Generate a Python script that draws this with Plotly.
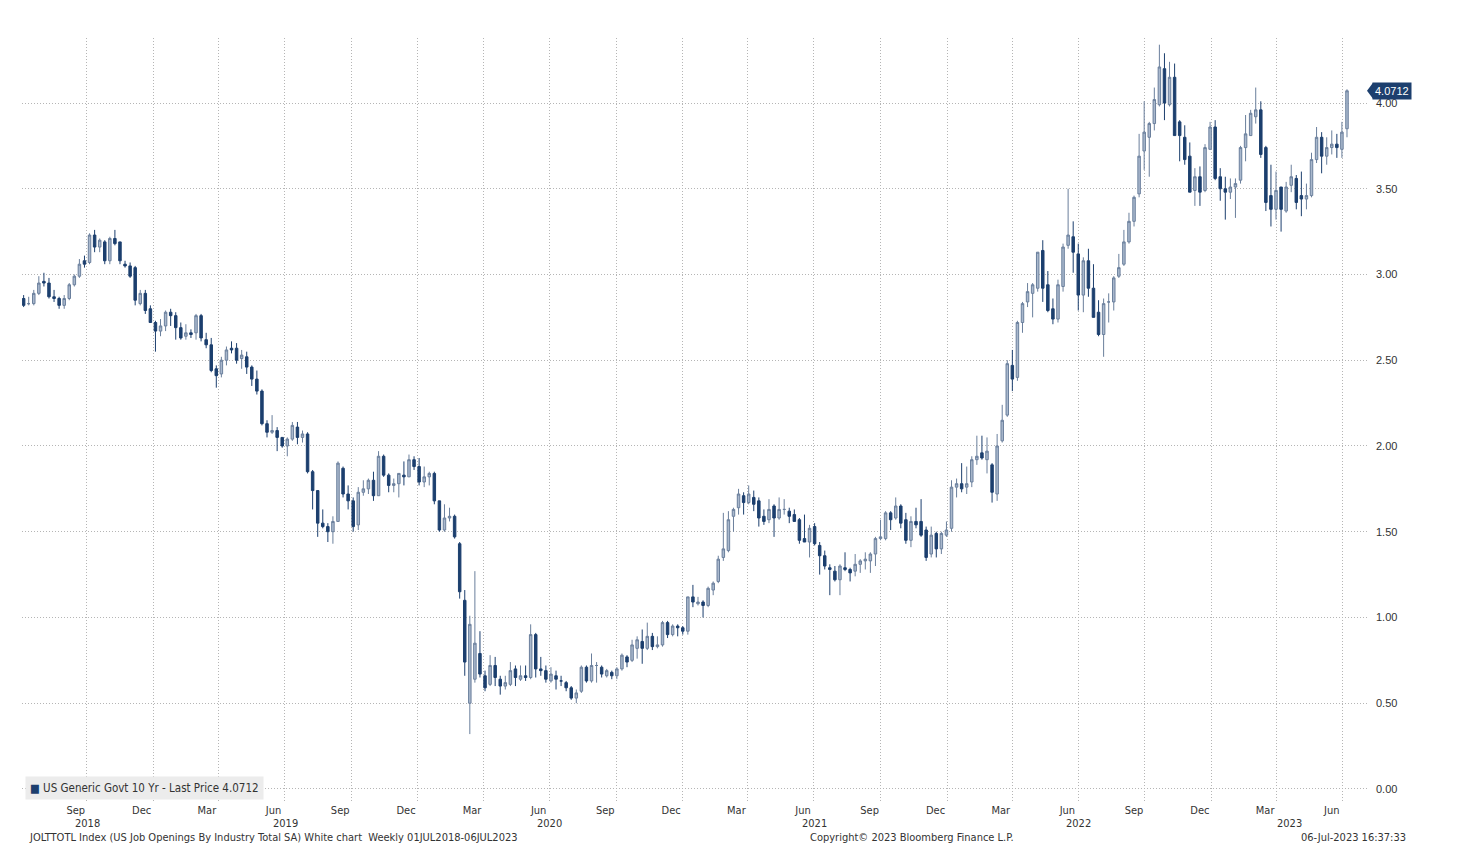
import pandas as pd
import plotly.graph_objects as go

# Weekly US Generic Govt 10Y (weeks ending Friday), 06-Jul-2018 .. 07-Jul-2023
first_week = "2018-07-06"

open_ = [
    # 2018
    2.86, 2.83, 2.83, 2.89, 2.96, 2.95, 2.87, 2.86, 2.82, 2.86, 2.94, 2.99, 3.08,
    3.07, 3.23, 3.16, 3.19, 3.08, 3.21, 3.19, 3.06, 3.05, 3.04, 2.83, 2.89, 2.80,
    # 2019
    2.72, 2.67, 2.70, 2.78, 2.76, 2.69, 2.64, 2.66, 2.66, 2.76, 2.62, 2.59, 2.45,
    2.42, 2.50, 2.57, 2.57, 2.51, 2.52, 2.46, 2.39, 2.32, 2.13, 2.08, 2.09, 2.05,
    2.00, 2.04, 2.11, 2.05, 2.07, 1.85, 1.74, 1.55, 1.53, 1.50, 1.56, 1.87, 1.72,
    1.68, 1.54, 1.73, 1.75, 1.80, 1.71, 1.94, 1.83, 1.77, 1.78, 1.83, 1.82, 1.92,
    # 2020
    1.88, 1.79, 1.82, 1.84, 1.68, 1.51, 1.58, 1.59, 1.43, 1.10, 0.50, 0.64, 0.79,
    0.66, 0.61, 0.72, 0.64, 0.60, 0.61, 0.70, 0.64, 0.66, 0.65, 0.90, 0.70, 0.69,
    0.63, 0.66, 0.63, 0.62, 0.59, 0.53, 0.57, 0.71, 0.63, 0.72, 0.71, 0.66, 0.68,
    0.66, 0.70, 0.77, 0.75, 0.82, 0.86, 0.82, 0.89, 0.83, 0.84, 0.97, 0.90, 0.95,
    # 2021
    0.94, 0.92, 1.12, 1.08, 1.09, 1.07, 1.16, 1.21, 1.35, 1.39, 1.59, 1.64, 1.71,
    1.67, 1.70, 1.68, 1.59, 1.57, 1.65, 1.58, 1.63, 1.62, 1.60, 1.57, 1.46, 1.44,
    1.53, 1.42, 1.36, 1.29, 1.27, 1.22, 1.29, 1.28, 1.27, 1.31, 1.33, 1.33, 1.37,
    1.46, 1.46, 1.61, 1.58, 1.65, 1.57, 1.45, 1.56, 1.56, 1.51, 1.37, 1.49, 1.40,
    1.48,
    # 2022
    1.52, 1.76, 1.78, 1.76, 1.79, 1.92, 1.96, 1.92, 1.89, 1.72, 2.03, 2.18, 2.47,
    2.40, 2.72, 2.84, 2.89, 2.92, 3.14, 2.94, 2.80, 2.74, 2.93, 3.17, 3.22, 3.12,
    2.88, 3.08, 2.92, 2.78, 2.65, 2.84, 2.84, 2.99, 3.06, 3.19, 3.31, 3.47, 3.72,
    3.80, 3.88, 3.99, 4.20, 3.99, 4.15, 3.89, 3.80, 3.69, 3.49, 3.57, 3.49, 3.73,
    # 2023
    3.86, 3.57, 3.50, 3.48, 3.51, 3.55, 3.74, 3.81, 3.92, 3.96, 3.74, 3.46, 3.38,
    3.51, 3.37, 3.52, 3.56, 3.46, 3.44, 3.46, 3.67, 3.80, 3.69, 3.74, 3.76, 3.73,
    3.85,
]

high = [
    # 2018
    2.88, 2.87, 2.91, 2.99, 3.01, 2.98, 2.91, 2.87, 2.88, 2.95, 3.00, 3.09, 3.11,
    3.24, 3.26, 3.21, 3.20, 3.22, 3.26, 3.19, 3.08, 3.07, 3.05, 2.91, 2.91, 2.82,
    # 2019
    2.73, 2.74, 2.79, 2.80, 2.78, 2.72, 2.71, 2.68, 2.77, 2.77, 2.66, 2.63, 2.47,
    2.52, 2.58, 2.61, 2.60, 2.56, 2.55, 2.47, 2.44, 2.33, 2.15, 2.18, 2.11, 2.05,
    2.05, 2.14, 2.14, 2.09, 2.08, 1.86, 1.74, 1.63, 1.55, 1.59, 1.91, 1.88, 1.77,
    1.70, 1.76, 1.80, 1.81, 1.85, 1.97, 1.95, 1.84, 1.81, 1.84, 1.91, 1.95, 1.94,
    # 2020
    1.93, 1.88, 1.85, 1.85, 1.68, 1.66, 1.64, 1.60, 1.44, 1.16, 1.01, 1.27, 0.92,
    0.69, 0.78, 0.77, 0.66, 0.66, 0.74, 0.72, 0.72, 0.72, 0.96, 0.91, 0.77, 0.72,
    0.71, 0.69, 0.66, 0.63, 0.60, 0.58, 0.72, 0.72, 0.79, 0.74, 0.72, 0.70, 0.69,
    0.71, 0.79, 0.78, 0.87, 0.89, 0.93, 0.97, 0.91, 0.89, 0.98, 0.98, 0.96, 0.96,
    # 2021
    0.95, 1.12, 1.19, 1.12, 1.10, 1.18, 1.21, 1.36, 1.61, 1.62, 1.64, 1.75, 1.73,
    1.77, 1.74, 1.70, 1.63, 1.69, 1.66, 1.70, 1.69, 1.64, 1.63, 1.58, 1.60, 1.54,
    1.55, 1.44, 1.39, 1.31, 1.30, 1.31, 1.38, 1.29, 1.37, 1.34, 1.38, 1.38, 1.47,
    1.57, 1.62, 1.62, 1.70, 1.66, 1.61, 1.59, 1.64, 1.69, 1.53, 1.53, 1.50, 1.50,
    1.56,
    # 2022
    1.80, 1.81, 1.90, 1.88, 1.94, 2.06, 2.06, 2.05, 1.90, 2.07, 2.24, 2.50, 2.56,
    2.73, 2.84, 2.95, 2.95, 3.13, 3.20, 3.02, 2.86, 2.97, 3.18, 3.50, 3.31, 3.18,
    3.10, 3.15, 3.06, 2.85, 2.86, 2.89, 2.99, 3.12, 3.26, 3.36, 3.46, 3.82, 4.01,
    3.89, 4.09, 4.34, 4.29, 4.24, 4.23, 3.90, 3.87, 3.77, 3.62, 3.63, 3.76, 3.89,
    # 2023
    3.90, 3.62, 3.57, 3.56, 3.56, 3.75, 3.93, 3.96, 4.09, 4.01, 3.75, 3.64, 3.60,
    3.51, 3.54, 3.64, 3.58, 3.60, 3.53, 3.71, 3.86, 3.83, 3.80, 3.84, 3.82, 3.89,
    4.08,
]

low = [
    # 2018
    2.81, 2.82, 2.82, 2.88, 2.93, 2.86, 2.84, 2.80, 2.80, 2.85, 2.93, 2.98, 3.04,
    3.06, 3.13, 3.13, 3.06, 3.06, 3.17, 3.06, 3.04, 2.98, 2.82, 2.82, 2.77, 2.72,
    # 2019
    2.55, 2.64, 2.67, 2.70, 2.62, 2.62, 2.62, 2.63, 2.62, 2.61, 2.57, 2.43, 2.34,
    2.40, 2.47, 2.54, 2.48, 2.45, 2.42, 2.35, 2.30, 2.12, 2.05, 2.07, 1.97, 1.99,
    1.94, 2.03, 2.01, 2.02, 1.84, 1.63, 1.47, 1.52, 1.44, 1.43, 1.56, 1.70, 1.63,
    1.50, 1.51, 1.71, 1.72, 1.68, 1.71, 1.82, 1.73, 1.73, 1.70, 1.77, 1.82, 1.86,
    # 2020
    1.77, 1.76, 1.77, 1.66, 1.50, 1.50, 1.56, 1.46, 1.11, 0.66, 0.32, 0.62, 0.65,
    0.57, 0.60, 0.60, 0.55, 0.58, 0.60, 0.60, 0.63, 0.63, 0.64, 0.65, 0.66, 0.62,
    0.62, 0.58, 0.60, 0.57, 0.52, 0.50, 0.56, 0.62, 0.62, 0.62, 0.65, 0.65, 0.64,
    0.64, 0.69, 0.71, 0.74, 0.76, 0.73, 0.81, 0.81, 0.82, 0.83, 0.88, 0.89, 0.89,
    # 2021
    0.90, 0.90, 1.06, 1.07, 1.00, 1.06, 1.13, 1.20, 1.33, 1.38, 1.50, 1.60, 1.60,
    1.66, 1.62, 1.53, 1.54, 1.55, 1.47, 1.57, 1.60, 1.55, 1.56, 1.43, 1.44, 1.35,
    1.42, 1.25, 1.28, 1.13, 1.21, 1.13, 1.27, 1.21, 1.24, 1.26, 1.28, 1.26, 1.30,
    1.45, 1.45, 1.51, 1.57, 1.52, 1.43, 1.41, 1.52, 1.47, 1.33, 1.35, 1.35, 1.37,
    1.47,
    # 2022
    1.50, 1.70, 1.73, 1.72, 1.76, 1.89, 1.92, 1.84, 1.67, 1.68, 2.02, 2.17, 2.32,
    2.38, 2.66, 2.81, 2.75, 2.90, 2.84, 2.78, 2.71, 2.72, 2.90, 3.15, 3.01, 2.79,
    2.78, 2.87, 2.75, 2.64, 2.52, 2.72, 2.79, 2.98, 3.05, 3.18, 3.28, 3.45, 3.61,
    3.57, 3.84, 3.98, 3.90, 3.98, 3.81, 3.66, 3.64, 3.48, 3.40, 3.40, 3.48, 3.73,
    # 2023
    3.55, 3.43, 3.32, 3.44, 3.33, 3.53, 3.66, 3.81, 3.88, 3.68, 3.37, 3.28, 3.32,
    3.25, 3.36, 3.48, 3.38, 3.34, 3.38, 3.45, 3.65, 3.59, 3.64, 3.70, 3.68, 3.68,
    3.80,
]

close = [
    # 2018
    2.82, 2.83, 2.89, 2.95, 2.95, 2.87, 2.86, 2.82, 2.86, 2.94, 2.99, 3.06, 3.06,
    3.23, 3.16, 3.20, 3.08, 3.21, 3.18, 3.08, 3.05, 2.99, 2.85, 2.89, 2.79, 2.72,
    # 2019
    2.67, 2.70, 2.78, 2.76, 2.69, 2.63, 2.66, 2.65, 2.76, 2.63, 2.59, 2.44, 2.41,
    2.50, 2.56, 2.56, 2.50, 2.53, 2.46, 2.39, 2.32, 2.13, 2.08, 2.09, 2.05, 2.00,
    2.04, 2.12, 2.05, 2.07, 1.85, 1.74, 1.55, 1.53, 1.50, 1.56, 1.90, 1.72, 1.68,
    1.53, 1.73, 1.75, 1.80, 1.71, 1.94, 1.83, 1.77, 1.78, 1.84, 1.82, 1.92, 1.88,
    # 2020
    1.79, 1.82, 1.84, 1.68, 1.51, 1.58, 1.59, 1.47, 1.15, 0.74, 0.96, 0.85, 0.67,
    0.59, 0.72, 0.65, 0.60, 0.62, 0.69, 0.65, 0.66, 0.65, 0.90, 0.70, 0.69, 0.64,
    0.67, 0.64, 0.63, 0.59, 0.53, 0.56, 0.71, 0.63, 0.72, 0.72, 0.67, 0.69, 0.66,
    0.70, 0.78, 0.74, 0.84, 0.87, 0.82, 0.89, 0.83, 0.84, 0.97, 0.90, 0.95, 0.94,
    # 2021
    0.92, 1.12, 1.09, 1.09, 1.07, 1.17, 1.20, 1.34, 1.40, 1.57, 1.63, 1.72, 1.67,
    1.72, 1.66, 1.58, 1.56, 1.63, 1.58, 1.63, 1.63, 1.59, 1.56, 1.45, 1.44, 1.52,
    1.43, 1.36, 1.30, 1.28, 1.22, 1.30, 1.28, 1.26, 1.31, 1.33, 1.34, 1.37, 1.46,
    1.47, 1.61, 1.57, 1.65, 1.55, 1.45, 1.56, 1.54, 1.48, 1.35, 1.48, 1.40, 1.49,
    1.51,
    # 2022
    1.76, 1.78, 1.75, 1.78, 1.92, 1.94, 1.93, 1.97, 1.73, 2.00, 2.15, 2.48, 2.39,
    2.72, 2.83, 2.90, 2.94, 3.13, 2.92, 2.79, 2.74, 2.94, 3.16, 3.23, 3.13, 2.88,
    3.08, 2.92, 2.75, 2.65, 2.83, 2.84, 2.98, 3.04, 3.19, 3.31, 3.45, 3.69, 3.83,
    3.88, 4.02, 4.21, 4.00, 4.15, 3.81, 3.81, 3.67, 3.48, 3.57, 3.48, 3.74, 3.86,
    # 2023
    3.56, 3.50, 3.48, 3.51, 3.53, 3.74, 3.82, 3.94, 3.96, 3.70, 3.42, 3.38, 3.49,
    3.38, 3.51, 3.57, 3.42, 3.44, 3.46, 3.67, 3.80, 3.69, 3.74, 3.76, 3.74, 3.83,
    4.0712,
]

last_price = close[-1]
series_name = "US Generic Govt 10 Yr - Last Price"
y_ticks = [0.0, 0.5, 1.0, 1.5, 2.0, 2.5, 3.0, 3.5, 4.0]
footer_left = "JOLTTOTL Index (US Job Openings By Industry Total SA) White chart  Weekly 01JUL2018-06JUL2023"
footer_mid = "Copyright\u00a9 2023 Bloomberg Finance L.P."
footer_right = "06-Jul-2023 16:37:33"

weeks = pd.date_range(first_week, periods=len(close), freq="W-FRI")

UP_FILL = "#a9b8cd"
UP_LINE = "#6a7f9c"
DN = "#1c3f6e"
GRID = "#b5b5b5"
GRID_DASH = "1px,2px"
NARROW = "Liberation Sans Narrow, Arial Narrow, DejaVu Sans Condensed, sans-serif"
TXT = "#333333"

# figure geometry (page has an 8px body margin)
W, H = 1458, 854
L, R, T, B = 14, 98, 30, 60
PW, PH = W - L - R, H - T - B


def px(page_x):
    return (page_x - 8 - L) / PW


def py(page_y):
    return (H - B - (page_y - 8)) / PH


x_start = pd.Timestamp("2018-07-03 18:00")
x_end = pd.Timestamp("2023-08-05")

fig = go.Figure(
    go.Candlestick(
        x=weeks, open=open_, high=high, low=low, close=close,
        increasing=dict(fillcolor=UP_FILL, line=dict(color=UP_LINE, width=1)),
        decreasing=dict(fillcolor=DN, line=dict(color=DN, width=1)),
        whiskerwidth=0, showlegend=False, name=series_name,
    )
)

# month labels at mid-month; dotted grid at quarter boundaries
label_dates, label_text, grid_dates = [], [], []
for yr in range(2018, 2024):
    for m, name in zip([3, 6, 9, 12], ["Mar", "Jun", "Sep", "Dec"]):
        d = pd.Timestamp(yr, m, 16)
        if x_start <= d <= x_end:
            label_dates.append(d)
            label_text.append(name)
        g = pd.Timestamp(yr, m, 1) + pd.offsets.MonthBegin(1)
        if x_start < g < x_end:
            grid_dates.append(g)

fig.update_xaxes(
    type="date", range=[x_start, x_end],
    tickmode="array", tickvals=label_dates, ticktext=label_text,
    showgrid=False, ticks="", showline=False, zeroline=False,
    tickfont=dict(family=NARROW, size=11, color=TXT),
    rangeslider=dict(visible=False),
    minor=dict(tickmode="array", tickvals=grid_dates, showgrid=True,
               gridcolor=GRID, griddash=GRID_DASH, gridwidth=1, ticks=""),
)
fig.update_yaxes(
    side="right", range=[-0.076, 4.379],
    tickmode="array", tickvals=y_ticks, tickformat=".2f",
    showgrid=True, gridcolor=GRID, griddash=GRID_DASH, gridwidth=1,
    zeroline=False, showline=False, ticks="", ticklabelstandoff=7,
    tickfont=dict(family="Liberation Sans, Arial, sans-serif", size=11, color=TXT),
)

annotations = []
# year labels centred on the visible span of each year
for yr in range(2018, 2024):
    a = max(pd.Timestamp(yr, 1, 1), x_start)
    b = min(pd.Timestamp(yr, 12, 31), x_end)
    mid = a + (b - a) / 2
    annotations.append(dict(x=mid, y=py(823), xref="x", yref="paper",
                            text=str(yr), showarrow=False, yanchor="middle",
                            font=dict(family=NARROW, size=11, color=TXT)))

# legend box
annotations.append(dict(
    x=px(25), y=py(800), xref="paper", yref="paper", xanchor="left", yanchor="bottom",
    text=f"<span style='color:{DN}'>\u25A0</span> {series_name} {last_price:.4f}",
    showarrow=False, bgcolor="#ececec", borderpad=4,
    font=dict(family=NARROW, size=11.5, color=TXT), align="left",
))
# last price tag
annotations.append(dict(
    x=1.0, y=last_price, xref="paper", yref="y", xanchor="left", yanchor="middle",
    xshift=4, text=f"{last_price:.4f}", showarrow=False, bgcolor=DN, borderpad=2,
    font=dict(family="Liberation Sans, Arial, sans-serif", size=11, color="white"),
))
# footers
for txt, x_pg, anc in [(footer_left, 27, "left"), (footer_mid, 912, "center"),
                       (footer_right, 1408, "right")]:
    annotations.append(dict(x=px(x_pg), y=py(837), xref="paper", yref="paper",
                            text=txt, showarrow=False, xanchor=anc, yanchor="middle",
                            font=dict(family=NARROW, size=11, color=TXT)))

fig.update_layout(
    width=W, height=H,
    margin=dict(l=L, r=R, t=T, b=B),
    paper_bgcolor="white", plot_bgcolor="white",
    annotations=annotations,
    showlegend=False,
)

# pointed tip of the last price tag
tip, base = 1.0 - 1.0 / PW, 1.0 + 5.0 / PW
fig.add_shape(type="path", xref="paper", yref="y",
              path=f"M {tip} {last_price} L {base} {last_price + 0.047} L {base} {last_price - 0.047} Z",
              fillcolor=DN, line=dict(width=0))

fig.write_html("out.html")
